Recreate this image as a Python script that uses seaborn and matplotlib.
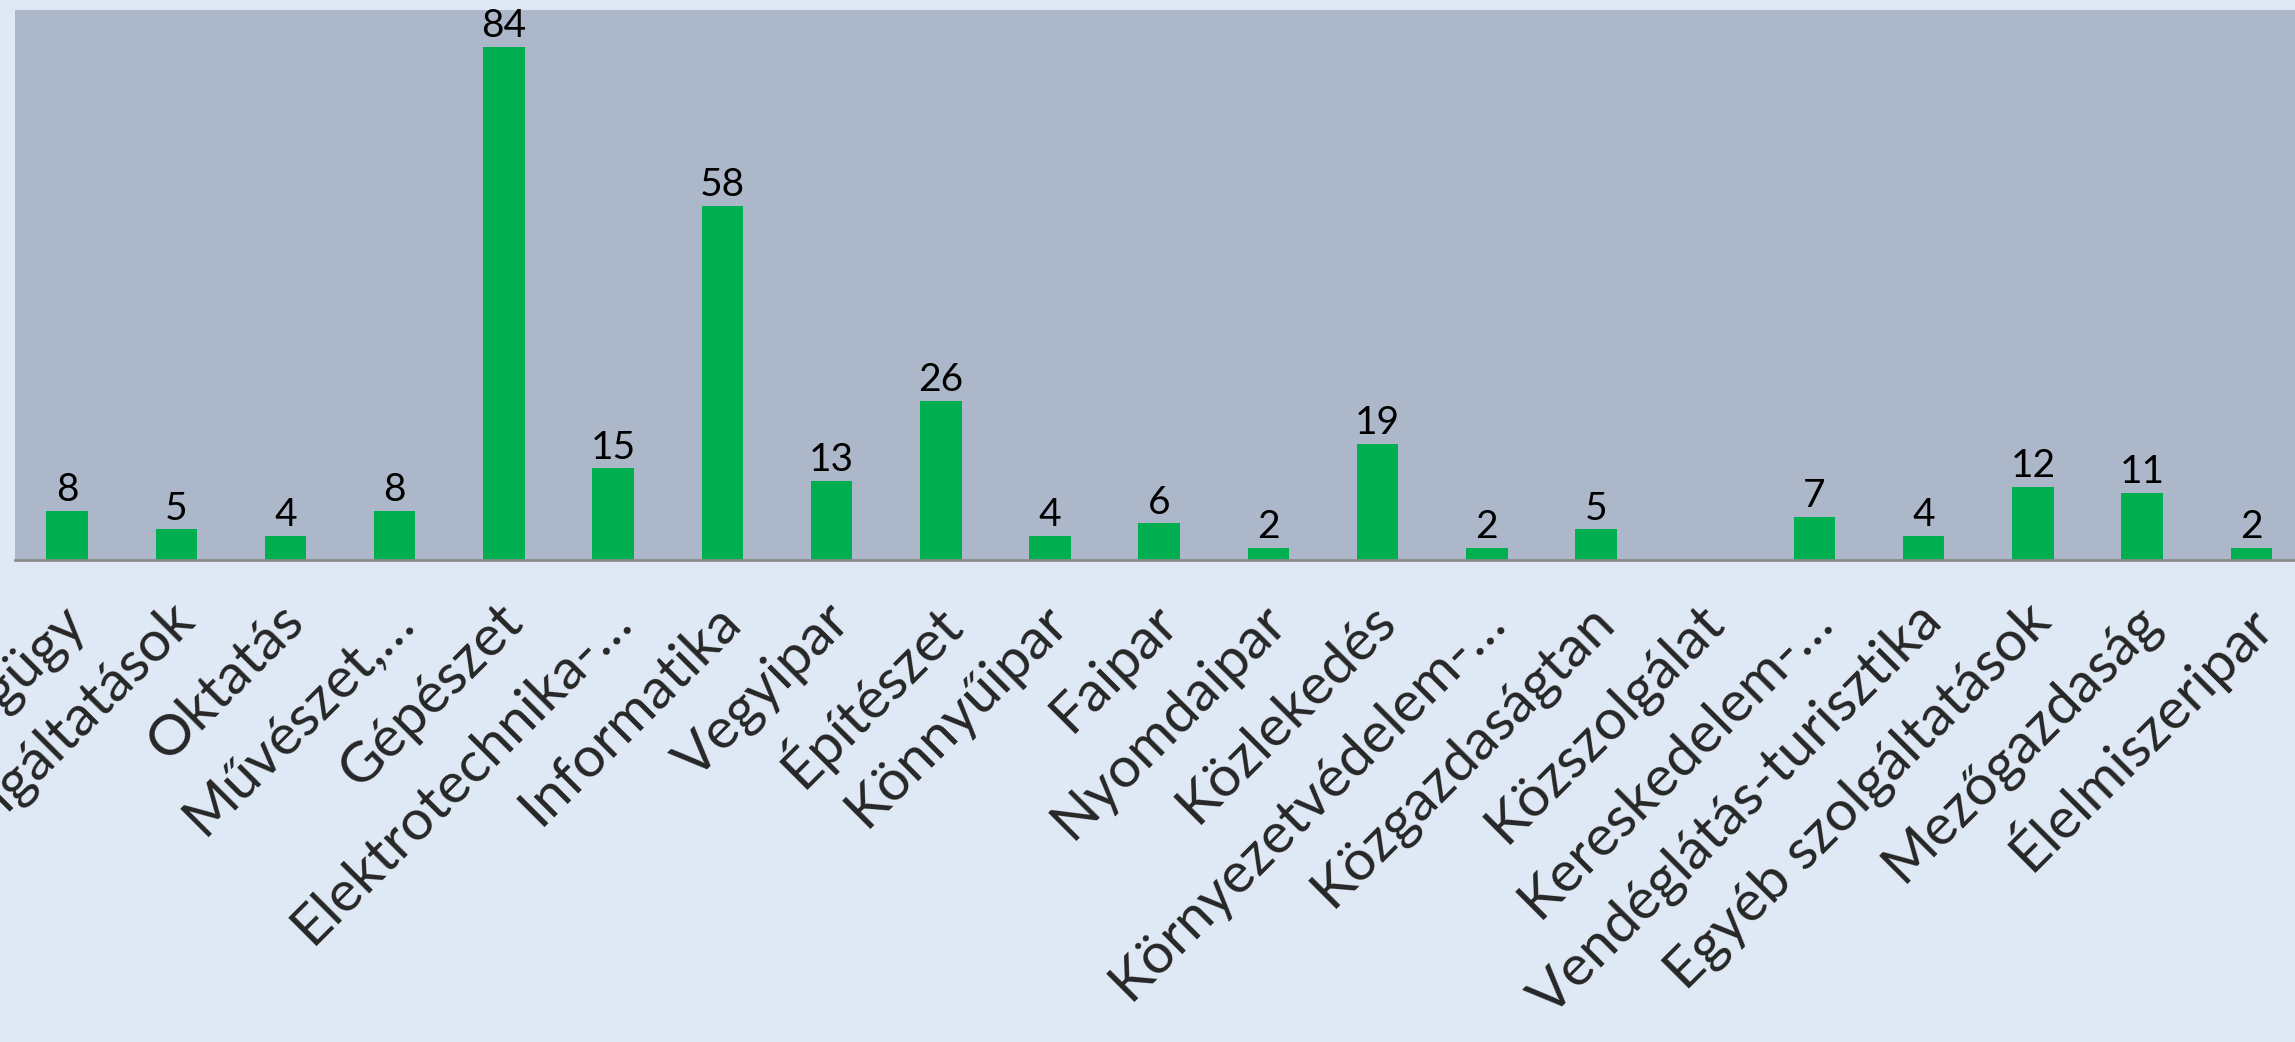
import matplotlib
matplotlib.use('Agg')
import matplotlib.pyplot as plt
import matplotlib.transforms as mtransforms
import seaborn as sns
import pandas as pd

# chart data
categories = ['Egészségügy', 'Szociális szolgáltatások', 'Oktatás', 'Művészet,…', 'Gépészet',
              'Elektrotechnika-…', 'Informatika', 'Vegyipar', 'Építészet', 'Könnyűipar',
              'Faipar', 'Nyomdaipar', 'Közlekedés', 'Környezetvédelem-…', 'Közgazdaságtan',
              'Közszolgálat', 'Kereskedelem-…', 'Vendéglátás-turisztika', 'Egyéb szolgáltatások',
              'Mezőgazdaság', 'Élelmiszeripar']
counts = [8, 5, 4, 8, 84, 15, 58, 13, 26, 4, 6, 2, 19, 2, 5, 0, 7, 4, 12, 11, 2]

df = pd.DataFrame({'cat': categories, 'n': counts})

sns.set_style('white')
plt.rcParams['font.family'] = ['Lato', 'DejaVu Sans']

fig = plt.figure(figsize=(22.95, 10.42), dpi=100)
fig.patch.set_facecolor('#dee9f5')
ax = fig.add_axes([0.0064, 0.4626, 0.9936, 0.5278])
ax.set_facecolor('#acb8ca')

sns.barplot(data=df, x='cat', y='n', color='#00b050', width=0.38, saturation=1,
            linewidth=0, ax=ax)

ax.set_xlim(-0.48, 20.4)
ax.set_ylim(0, 90)
ax.set_xlabel('')
ax.set_ylabel('')
ax.set_yticks([])

lbls = [str(v) if v > 0 else '' for v in counts]
ax.bar_label(ax.containers[0], labels=lbls, fontsize=28, padding=2, color='black')

ax.tick_params(axis='x', length=0, pad=38)
shift = mtransforms.ScaledTranslation(0.10, 0, fig.dpi_scale_trans)
for t in ax.get_xticklabels():
    t.set_rotation(45)
    t.set_ha('right')
    t.set_va('center')
    t.set_rotation_mode('anchor')
    t.set_fontsize(41)
    t.set_transform(t.get_transform() + shift)

for s in ['top', 'left', 'right']:
    ax.spines[s].set_visible(False)
ax.spines['bottom'].set_color('#8c8c8c')
ax.spines['bottom'].set_linewidth(2)

fig.savefig('out.png', dpi=100, facecolor=fig.get_facecolor())
